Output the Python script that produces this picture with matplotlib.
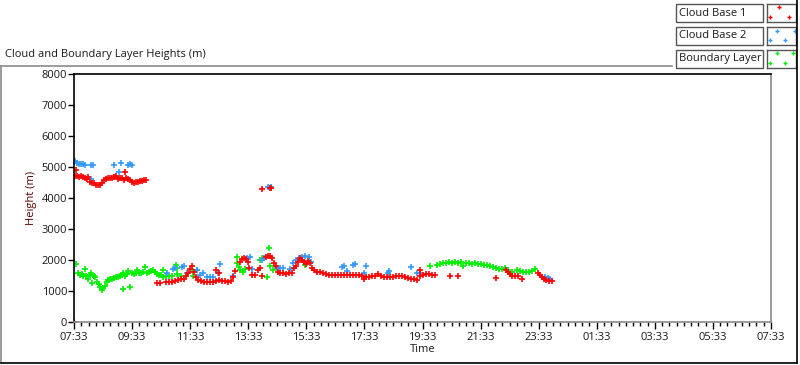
import datetime as dt
import matplotlib
matplotlib.use("Agg")
import matplotlib.pyplot as plt
import matplotlib.dates as mdates
from matplotlib.patches import Rectangle
from matplotlib.lines import Line2D

plt.rcParams['font.family'] = ['Open Sans', 'DejaVu Sans']

# --- Data (clock time in decimal hours, height in m) ---
DAY0 = dt.datetime(2000, 1, 1)
START = dt.datetime(2000, 1, 1, 7, 33)

cb1_hour = [
    7.56, 7.58, 7.65, 7.72, 7.79, 7.86, 7.93, 8.00, 8.03, 8.10, 8.17, 8.24, 8.31,
    8.38, 8.45, 8.51, 8.58, 8.65, 8.72, 8.79, 8.86, 8.93, 9.00, 9.07, 9.13,
    9.20, 9.27, 9.34, 9.41, 9.48, 9.55, 9.62, 9.69, 9.76, 9.82, 9.89, 9.96,
    10.03, 7.62, 9.31,
    14.03, 14.30, 14.35,
    10.41, 10.51, 10.72, 10.82, 10.92, 11.03, 11.13, 11.23, 11.34, 11.41,
    11.48, 11.54, 11.61, 11.68, 11.75, 11.82, 11.92, 12.03, 12.13, 12.23,
    12.34, 12.44, 12.54, 12.65, 12.75, 12.85, 12.96, 13.03, 13.09, 12.44,
    12.54, 13.27, 13.34, 13.40, 13.47, 13.54, 13.58, 13.68, 13.78, 13.89,
    13.95, 14.02, 14.16, 14.23, 14.30, 14.37, 14.44, 14.51, 14.57, 14.64,
    14.75, 14.85, 14.95, 15.06, 15.13, 15.19, 15.26, 15.33, 15.40, 15.47,
    15.54, 15.61, 15.68, 15.75, 15.81, 15.92, 16.02, 16.12, 16.23, 16.33,
    16.43, 16.54, 16.64, 16.74, 16.85, 16.95, 17.05, 17.16, 17.26, 17.36,
    17.47, 17.54, 17.61, 17.71, 17.81, 17.92, 18.02, 18.12, 18.23, 18.33,
    18.43, 18.54, 18.64, 18.74, 18.85, 18.95, 19.05, 19.15, 19.26, 19.36,
    19.46, 19.46, 19.57, 19.67, 19.77, 19.88, 19.98, 20.50, 20.77, 22.08,
    22.43, 22.49, 22.56, 22.63, 22.74, 22.84, 22.98, 23.53, 23.60, 23.67,
    23.74, 23.80, 23.91, 24.01,
]
cb1_height = [
    0, 4700, 4700, 4690, 4700, 4690, 4650, 4620, 4680, 4520, 4480, 4470, 4420,
    4410, 4430, 4500, 4580, 4600, 4640, 4650, 4640, 4690, 4710, 4620, 4660,
    4640, 4580, 4630, 4600, 4570, 4520, 4500, 4520, 4530, 4550, 4560, 4580,
    4580, 4900, 4840,
    4290, 4320, 4320,
    1260, 1260, 1290, 1290, 1290, 1320, 1360, 1390, 1390, 1480,
    1580, 1710, 1810, 1610, 1450, 1360, 1320, 1290, 1290, 1290,
    1290, 1320, 1360, 1320, 1320, 1290, 1320, 1450, 1650, 1680,
    1580, 1940, 2030, 2060, 2030, 1940, 1740, 1520, 1520, 1680,
    1740, 1480, 2100, 2130, 2130, 2060, 1900, 1810, 1610, 1580,
    1580, 1550, 1580, 1580, 1740, 1810, 1940, 2060, 2000, 1940,
    1870, 1970, 1900, 1740, 1680, 1610, 1610, 1580, 1550, 1520,
    1520, 1520, 1520, 1520, 1520, 1520, 1520, 1520, 1520, 1520,
    1480, 1390, 1450, 1450, 1480, 1480, 1550, 1480, 1450, 1450,
    1450, 1450, 1480, 1480, 1480, 1450, 1420, 1390, 1390, 1360,
    1480, 1680, 1520, 1550, 1550, 1520, 1520, 1480, 1480, 1420,
    1680, 1610, 1550, 1480, 1480, 1480, 1390, 1580, 1520, 1450,
    1390, 1360, 1320, 1320,
]

cb2_hour = [
    7.58, 7.65, 7.72, 7.79, 7.86, 7.93, 8.14, 8.20, 8.93, 9.10, 9.17, 9.41,
    9.48, 9.55, 8.14,
    14.23, 14.33,
    10.75, 10.96, 11.03, 11.27, 11.34, 11.44, 11.79, 11.89, 11.99, 12.13,
    12.23, 12.34, 12.51, 12.58, 13.03, 13.51, 13.61, 13.68, 14.02, 14.09,
    14.54, 14.64, 14.75, 14.99, 15.09, 15.19, 15.30, 15.40, 15.50, 15.64,
    15.71, 15.92, 16.78, 16.85, 16.95, 17.16, 17.23, 17.61, 17.54, 18.36,
    18.40, 19.15, 19.36, 19.46, 23.77, 23.87, 23.94,
]
cb2_height = [
    5190, 5130, 5100, 5100, 5100, 5060, 5060, 5060, 5060, 4840, 5130, 5060,
    5100, 5060, 4610,
    4360, 4360,
    1580, 1710, 1740, 1770, 1810, 1580, 1680, 1520, 1580, 1450,
    1450, 1450, 1580, 1870, 1480, 2060, 2100, 1710, 2000, 2060,
    1740, 1740, 1740, 1710, 1900, 2000, 2060, 2100, 2130, 2100,
    1940, 1610, 1770, 1810, 1650, 1840, 1870, 1810, 1580, 1580,
    1650, 1770, 1580, 1580, 1450, 1420, 1390,
]

bl_hour = [
    7.62, 7.69, 7.76, 7.83, 7.86, 7.93, 7.96, 8.03, 8.10, 8.14, 8.17, 8.24,
    8.27, 8.34, 8.41, 8.45, 8.51, 8.55, 8.62, 8.69, 8.72, 8.79, 8.86, 8.93,
    9.00, 9.07, 9.13, 9.20, 9.24, 9.31, 9.38, 9.41, 9.24, 9.48, 9.55, 9.62,
    9.69, 9.72, 9.79, 9.86, 9.93, 10.00, 10.06, 10.13, 10.20, 10.27, 10.34,
    10.41, 10.48, 10.55, 10.62, 10.62, 10.72, 10.82, 10.92, 11.06, 11.10,
    11.10, 11.23, 11.65, 11.65, 11.79,
    13.16, 13.16, 13.23, 13.27, 13.37, 13.44, 13.95, 14.02, 14.20, 14.26,
    14.30, 14.40, 15.50,
    19.81, 20.05, 20.15, 20.26, 20.36, 20.46, 20.57, 20.67, 20.77, 20.88,
    20.95, 21.05, 21.15, 21.26, 21.36, 21.46, 21.57, 21.67, 21.77, 21.88,
    21.98, 22.08, 22.19, 22.29, 22.39, 22.49, 22.63, 22.80, 22.91, 23.01,
    23.11, 23.22, 23.32, 23.42,
]
bl_height = [
    1870, 1580, 1520, 1550, 1480, 1710, 1480, 1390, 1520, 1580, 1260, 1480,
    1450, 1290, 1230, 1130, 1030, 1100, 1160, 1290, 1360, 1390, 1390, 1420,
    1450, 1450, 1480, 1520, 1580, 1480, 1550, 1650, 1060, 1130, 1580, 1550,
    1580, 1680, 1580, 1580, 1610, 1770, 1580, 1610, 1650, 1680, 1610,
    1550, 1520, 1520, 1680, 1450, 1480, 1480, 1480, 1840, 1740,
    1550, 1480, 1650, 1480, 1680,
    2100, 1900, 1770, 1680, 1610, 1710, 2000, 2060, 1450, 2390,
    1810, 1680, 1840,
    1810, 1840, 1870, 1900, 1900, 1940, 1900, 1940, 1900, 1940,
    1810, 1900, 1900, 1870, 1900, 1870, 1870, 1840, 1840, 1810,
    1770, 1740, 1710, 1710, 1740, 1680, 1610, 1680, 1650, 1610,
    1610, 1610, 1650, 1710,
]

series_names = ["Cloud Base 1", "Cloud Base 2", "Boundary Layer"]
series_colors = ["#ff0000", "#3399ff", "#00ee00"]

W, H = 800, 365


def fx(x):
    return x / W


def fy(y):
    return 1 - y / H


def to_times(hours):
    return [DAY0 + dt.timedelta(hours=h) for h in hours]


fig = plt.figure(figsize=(8, 3.65), dpi=100)
ax = fig.add_axes([fx(74), fy(322), (771 - 74) / W, (322 - 74) / H])

data = [(bl_hour, bl_height), (cb2_hour, cb2_height), (cb1_hour, cb1_height)]
colors = [series_colors[2], series_colors[1], series_colors[0]]
for (hrs, hts), col in zip(data, colors):
    ax.plot(to_times(hrs), hts, ls='none', marker='+', ms=3.8, mew=1.2,
            color=col)

ax.set_xlim(START, START + dt.timedelta(hours=24))
ax.set_ylim(0, 8000)
ax.set_yticks(range(0, 8001, 1000))

major = [START + dt.timedelta(hours=2 * i) for i in range(13)]
minor = [START + dt.timedelta(minutes=15 * i) for i in range(97)]
ax.set_xticks(major)
ax.set_xticks(minor, minor=True)
ax.xaxis.set_major_formatter(mdates.DateFormatter('%H:%M'))

ax.tick_params(axis='y', direction='out', length=4, width=1, color='black',
               labelsize=8, labelcolor='#1a1a1a', pad=1)
ax.tick_params(axis='x', which='major', direction='out', length=5, width=1,
               color='black', labelsize=8, labelcolor='#1a1a1a', pad=2)
ax.tick_params(axis='x', which='minor', direction='out', length=3, width=1,
               color='black')

for side in ['left', 'top']:
    ax.spines[side].set_color('black')
    ax.spines[side].set_linewidth(1.2)
for side in ['right', 'bottom']:
    ax.spines[side].set_color('#8a8a8a')
    ax.spines[side].set_linewidth(1.2)

ax.set_xlabel("Time", fontsize=8, color='#1a1a1a', labelpad=1)
ax.set_ylabel("Height (m)", fontsize=8, color='#5a0000', labelpad=3)

# title and outer frame
fig.text(fx(5), fy(55), "Cloud and Boundary Layer Heights (m)", fontsize=8,
         va='center', ha='left', color='#1a1a1a')
frame = [
    ((0.5, 66), (672, 66), '#8a8a8a'),
    ((0.5, 66), (0.5, 363), '#8a8a8a'),
    ((0.5, 363), (797, 363), 'black'),
    ((797, 0), (797, 363), 'black'),
]
for (x0, y0), (x1, y1), col in frame:
    fig.add_artist(Line2D([fx(x0), fx(x1)], [fy(y0), fy(y1)], color=col,
                          lw=1.2, transform=fig.transFigure))

# legend: label box + sample box per series
row_tops = [4, 27, 50]
sample_x = [[0.41, 0.10, 0.76], [0.34, 0.10, 0.62, 0.95], [0.34, 0.90, 0.10, 0.62]]
sample_y = [[0.83, 0.28, 0.28], [0.78, 0.28, 0.28, 0.78], [0.83, 0.83, 0.28, 0.28]]
for name, col, top, sx, sy in zip(series_names, series_colors, row_tops,
                                  sample_x, sample_y):
    fig.add_artist(Rectangle((fx(676), fy(top + 18)), (763 - 676) / W, 18 / H,
                             transform=fig.transFigure, facecolor='white',
                             edgecolor='#555555', lw=1))
    fig.text(fx(679), fy(top + 9), name, fontsize=8, va='center', ha='left',
             color='#1a1a1a')
    sax = fig.add_axes([fx(767), fy(top + 18), (796 - 767) / W, 18 / H])
    sax.set_xlim(0, 1)
    sax.set_ylim(0, 1)
    sax.set_xticks([])
    sax.set_yticks([])
    for s in sax.spines.values():
        s.set_color('#555555')
        s.set_linewidth(1)
    sax.plot(sx, sy, ls='none', marker='+', ms=3, mew=1, color=col,
             clip_on=False)

fig.savefig("out.png", dpi=100)
